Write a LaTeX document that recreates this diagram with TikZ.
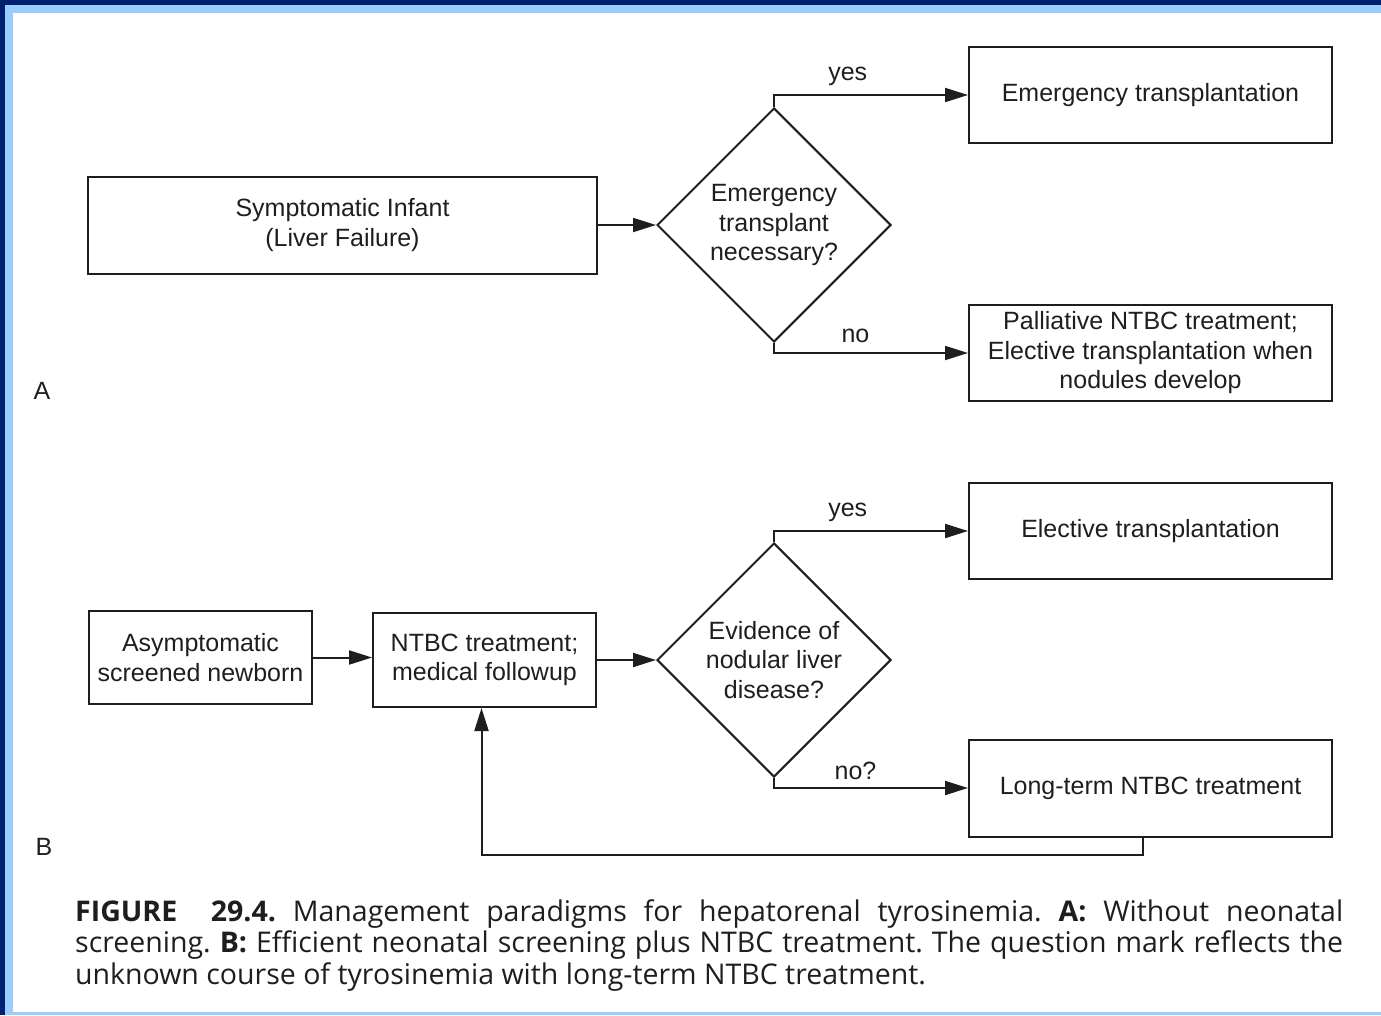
\documentclass[tikz,border=0pt]{standalone}
\usepackage{fontspec}
\setmainfont{Liberation Sans}
\newfontfamily\capfont{Open Sans}
\usetikzlibrary{shapes.geometric,arrows.meta}
\definecolor{navy}{RGB}{0,32,112}
\definecolor{paleblue}{RGB}{153,204,255}
\definecolor{ink}{RGB}{30,30,30}
\frenchspacing

\begin{document}
\begin{tikzpicture}[x=1pt,y=-1pt,ink,
    font=\fontsize{25}{29.5}\selectfont,
    box/.style={draw,line width=2pt,align=center,inner sep=0pt},
    decision/.style={diamond,draw,line width=2pt,align=center,
        minimum width=234pt,minimum height=234pt,inner sep=0pt},
    arr/.style={line width=2pt,-{Triangle[length=23pt,width=14pt]}}]
    \useasboundingbox (0,0) rectangle (1381,1015);
    % frame
    \fill[navy] (0,0) rectangle (1381,5);
    \fill[navy] (0,0) rectangle (5,1015);
    \fill[paleblue] (5,5) rectangle (1381,13);
    \fill[paleblue] (5,5) rectangle (13,1015);
    \fill[paleblue] (5,1012) rectangle (1381,1015);

    % A
    \node[box,minimum width=509pt,minimum height=97pt] (infant) at (342.5,225) {Symptomatic Infant\\(Liver Failure)};
    \node[decision] (decideA) at (774,225) {Emergency\\transplant\\necessary?};
    \node[box,minimum width=363pt,minimum height=96pt] (emtx) at (1150.5,95) {Emergency transplantation};
    \node[box,minimum width=363pt,minimum height=96pt] (palliative) at (1150.5,353) {Palliative NTBC treatment;\\Elective transplantation when\\nodules develop};
    \node (labelA) at (42,391) {A};

    \draw[arr] (infant.east) -- (decideA.west);
    \draw[arr] (decideA.north) |- (emtx.west) node[above=5pt,pos=0.69] {yes};
    \draw[arr] (decideA.south) |- (palliative.west) node[above=6pt,pos=0.71] {no};

    % B
    \node[box,minimum width=223pt,minimum height=93pt] (newborn) at (200.5,657.5) {Asymptomatic\\screened newborn};
    \node[box,minimum width=223pt,minimum height=94pt] (ntbc) at (484.5,660) {NTBC treatment;\\medical followup};
    \node[decision] (decideB) at (774,660) {Evidence of\\nodular liver\\disease?};
    \node[box,minimum width=363pt,minimum height=96pt] (eltx) at (1150.5,531) {Elective transplantation};
    \node[box,minimum width=363pt,minimum height=97pt] (longterm) at (1150.5,788) {Long-term NTBC treatment};
    \node (labelB) at (44,847) {B};
    \coordinate (back) at (0,855);

    \draw[arr] (newborn.east) -- (newborn.east -| ntbc.west);
    \draw[arr] (ntbc.east) -- (decideB.west);
    \draw[arr] (decideB.north) |- (eltx.west) node[above=5pt,pos=0.69] {yes};
    \draw[arr] (decideB.south) |- (longterm.west) node[above=4pt,pos=0.71] {no?};
    \draw[arr] ([xshift=-8pt]longterm.south) |- ([xshift=-3pt]ntbc.south |- back) -- ([xshift=-3pt]ntbc.south);

    % caption
    \node[anchor=north west,text width=1268pt,align=justify,inner sep=0pt,
        font=\capfont\fontsize{28.5}{31.5}\selectfont] (caption) at (75,899)
        {\textbf{FIGURE\ \ 29.4.} Management paradigms for hepatorenal tyrosinemia. \textbf{A:} Without neonatal\linebreak
        screening. \textbf{B:} Efficient neonatal screening plus NTBC treatment. The question mark reflects the\linebreak
        unknown course of tyrosinemia with long-term NTBC treatment.};
\end{tikzpicture}
\end{document}
